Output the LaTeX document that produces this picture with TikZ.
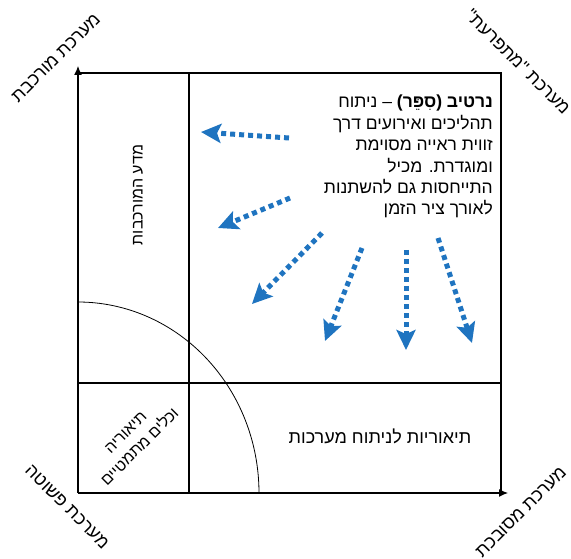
\documentclass[tikz,border=0pt]{standalone}
\usepackage{fontspec}
\setmainfont{Liberation Sans}
\newfontfamily\heb[Script=Hebrew]{Liberation Sans}
\TeXXeTstate=1
\usetikzlibrary{arrows.meta}
\definecolor{arrblue}{RGB}{31,116,192}
\newcommand{\hebline}[1]{\beginR #1\endR}
\begin{document}
\begin{tikzpicture}[x=1pt,y=-1pt,
  frameline/.style={line width=1.2pt},
  axisline/.style={line width=1.2pt,-{Latex[length=9pt,width=8pt]}},
  flowarrow/.style={arrblue,line width=5pt,dash pattern=on 5pt off 4pt,
    -{Stealth[length=20pt,width=19pt,inset=4pt]}},
  lbl/.style={font=\heb\fontsize{18}{21}\selectfont,inner sep=0pt,align=center},
  paratext/.style={font=\heb\fontsize{17.5}{21.4}\selectfont,inner sep=0pt,align=right}]
\useasboundingbox (0,0) rectangle (571,559);
% frame coordinates
\coordinate (O) at (78,493);
\coordinate (Ytop) at (78,66);
\coordinate (Xend) at (508,493);
\coordinate (TL) at (78,73);
\coordinate (TR) at (501,73);
\coordinate (BR) at (501,493);
\coordinate (V1) at (189,73);
\coordinate (V2) at (189,493);
\coordinate (H1) at (78,383);
\coordinate (H2) at (501,383);
\draw[frameline] (TL) -- (TR) -- (BR);
\draw[frameline] (V1) -- (V2);
\draw[frameline] (H1) -- (H2);
\draw[axisline] (O) -- (Ytop);
\draw[axisline] (O) -- (Xend);
\draw[line width=0.8pt] plot[domain=0:90,samples=80] ({78+181*cos(\x)},{493-191*sin(\x)});
% flow arrows
\coordinate (a1s) at (289,138); \coordinate (a1e) at (201,132);
\coordinate (a2s) at (290,198); \coordinate (a2e) at (218,228);
\coordinate (a3s) at (322,233); \coordinate (a3e) at (252,304);
\coordinate (a4s) at (362,248); \coordinate (a4e) at (325,341);
\coordinate (a5s) at (406,250); \coordinate (a5e) at (406,350);
\coordinate (a6s) at (438,238); \coordinate (a6e) at (472,343);
\foreach \i in {1,...,6} {\draw[flowarrow] (a\i s) -- (a\i e);}
% horizontal texts
\node[lbl] (sys) at (380,436) {\hebline{תיאוריות לניתוח מערכות}};
\node[paratext,anchor=north east] (nar) at (493,95) {%
\hebline{\textbf{נרטיב (סִפֵּר)} – ניתוח}\\
\hebline{תהליכים ואירועים דרך}\\
\hebline{זווית ראייה מסוימת}\\
\hebline{ומוגדרת. מכיל}\\
\hebline{התייחסות גם להשתנות}\\
\hebline{לאורך ציר הזמן}};
\node[lbl,font=\heb\fontsize{16}{19}\selectfont,rotate=90] (cx) at (138,195) {\hebline{מדע המורכבות}};
% rotated labels
\node[lbl,rotate=45] (tl) at (56,58) {\hebline{מערכת מורכבת}};
\node[lbl,rotate=-45] (tr) at (518,62) {\hebline{מערכת "מתפרעת"}};
\node[lbl,rotate=-45] (bl) at (67,507) {\hebline{מערכת פשוטה}};
\node[lbl,rotate=45] (br) at (521,512) {\hebline{מערכת מסובכת}};
\node[lbl,font=\heb\fontsize{16}{20}\selectfont,rotate=45] (math) at (133,440) {\hebline{תיאוריה}\\\hebline{וכלים מתמטיים}};
\end{tikzpicture}
\end{document}
